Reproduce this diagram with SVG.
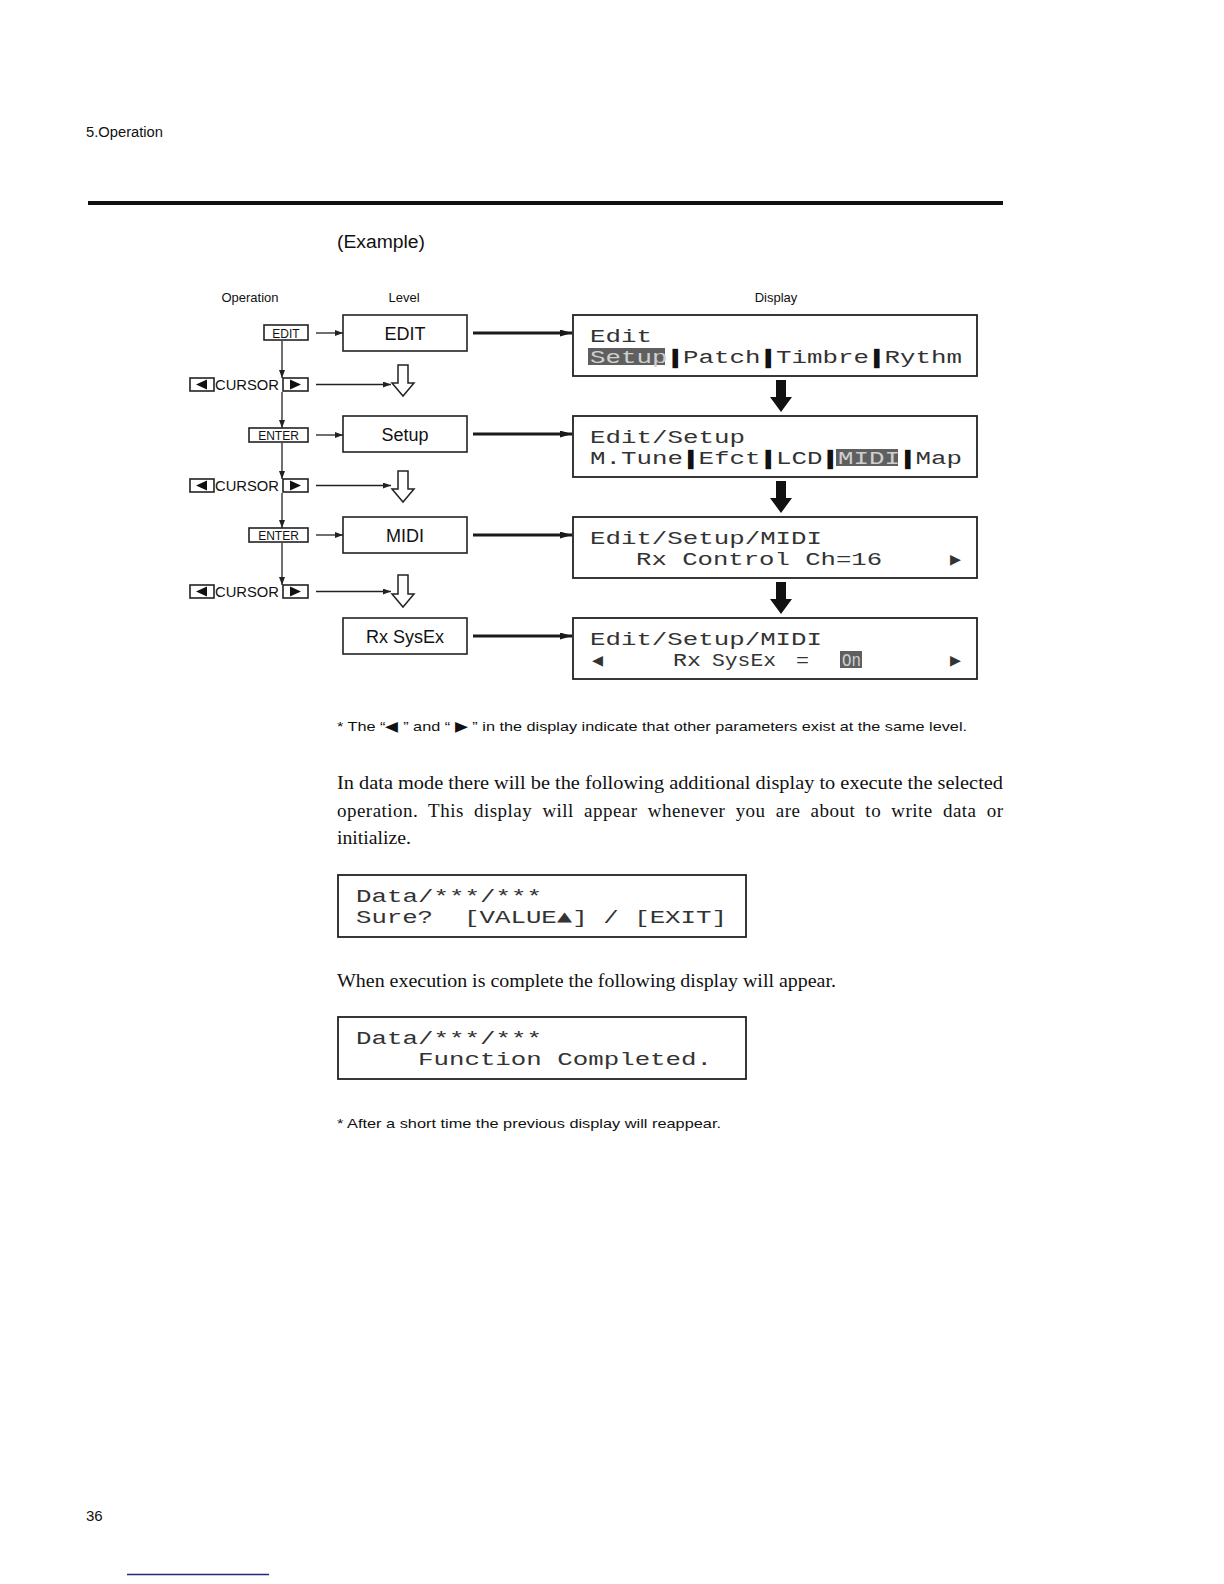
<svg xmlns="http://www.w3.org/2000/svg" width="1224" height="1584" viewBox="0 0 1224 1584">
<style>
  .sans { font-family: "Liberation Sans", Arial, sans-serif; fill: #111; }
  .serif { font-family: "Liberation Serif", "Times New Roman", serif; fill: #111; }
  .lcd { font-family: "Liberation Mono", "DejaVu Sans Mono", monospace; font-size: 18px; fill: #333; }
  .hl { fill: #cfcfcf; }
  .bar { fill: #111; stroke: #111; stroke-width: 2.4; }
  .box { fill: #fff; stroke: #222; stroke-width: 1.6; }
  .dbox { fill: #fff; stroke: #222; stroke-width: 1.8; }
  .key { fill: #fff; stroke: #222; stroke-width: 1.6; }
  .hlrect { fill: #5f5f5f; }
  .thin { stroke: #222; stroke-width: 1.3; fill: none; }
  .thick { stroke: #1a1a1a; stroke-width: 3; fill: none; }
  .hollow { fill: #fff; stroke: #222; stroke-width: 1.5; stroke-linejoin: miter; }
  .solid { fill: #111; }
</style>
<defs>
  <marker id="ah" markerUnits="userSpaceOnUse" markerWidth="8" markerHeight="6" refX="8" refY="3" orient="auto">
    <path d="M0,0 L8,3 L0,6 Z" fill="#222"/>
  </marker>
  <marker id="ahk" markerUnits="userSpaceOnUse" markerWidth="12" markerHeight="7" refX="12" refY="3.5" orient="auto">
    <path d="M0,0 L12,3.5 L0,7 Z" fill="#1a1a1a"/>
  </marker>
</defs>
<rect width="1224" height="1584" fill="#fff"/>

<!-- header -->
<text class="sans" x="86" y="137" font-size="14" textLength="77" lengthAdjust="spacingAndGlyphs">5.Operation</text>
<rect x="88" y="201" width="915" height="4" fill="#111"/>
<text class="sans" x="337" y="248" font-size="18" textLength="88" lengthAdjust="spacingAndGlyphs">(Example)</text>

<text class="sans" x="250" y="302" font-size="13" text-anchor="middle">Operation</text>
<text class="sans" x="404" y="302" font-size="13" text-anchor="middle">Level</text>
<text class="sans" x="776" y="302" font-size="13" text-anchor="middle">Display</text>

<!-- operation keys -->
<g id="key-edit">
  <rect class="key" x="264" y="325" width="44" height="15"/>
  <text class="sans" x="286" y="337.5" font-size="12" text-anchor="middle">EDIT</text>
</g>
<g id="key-cursor1">
  <rect class="key" x="190" y="378" width="24" height="13"/>
  <path class="solid" d="M196,384.5 L207,379.5 L207,389.5 Z"/>
  <text class="sans" x="215" y="389.5" font-size="14" textLength="64" lengthAdjust="spacingAndGlyphs">CURSOR</text>
  <rect class="key" x="283" y="378" width="25" height="13"/>
  <path class="solid" d="M290,379.5 L301,384.5 L290,389.5 Z"/>
</g>
<g id="key-enter1">
  <rect class="key" x="249" y="428" width="59" height="14"/>
  <text class="sans" x="278.5" y="440" font-size="12" text-anchor="middle">ENTER</text>
</g>
<g id="key-cursor2">
  <rect class="key" x="190" y="479" width="24" height="13"/>
  <path class="solid" d="M196,485.5 L207,480.5 L207,490.5 Z"/>
  <text class="sans" x="215" y="490.5" font-size="14" textLength="64" lengthAdjust="spacingAndGlyphs">CURSOR</text>
  <rect class="key" x="283" y="479" width="25" height="13"/>
  <path class="solid" d="M290,480.5 L301,485.5 L290,490.5 Z"/>
</g>
<g id="key-enter2">
  <rect class="key" x="249" y="528" width="59" height="14"/>
  <text class="sans" x="278.5" y="540" font-size="12" text-anchor="middle">ENTER</text>
</g>
<g id="key-cursor3">
  <rect class="key" x="190" y="585" width="24" height="13"/>
  <path class="solid" d="M196,591.5 L207,586.5 L207,596.5 Z"/>
  <text class="sans" x="215" y="596.5" font-size="14" textLength="64" lengthAdjust="spacingAndGlyphs">CURSOR</text>
  <rect class="key" x="283" y="585" width="25" height="13"/>
  <path class="solid" d="M290,586.5 L301,591.5 L290,596.5 Z"/>
</g>

<!-- level boxes -->
<g id="level-edit">
  <rect class="box" x="343" y="315" width="124" height="36"/>
  <text class="sans" x="405" y="339.5" font-size="18" text-anchor="middle">EDIT</text>
</g>
<g id="level-setup">
  <rect class="box" x="343" y="416" width="124" height="36"/>
  <text class="sans" x="405" y="440.5" font-size="18" text-anchor="middle">Setup</text>
</g>
<g id="level-midi">
  <rect class="box" x="343" y="517" width="124" height="36"/>
  <text class="sans" x="405" y="541.5" font-size="18" text-anchor="middle">MIDI</text>
</g>
<g id="level-rxsysex">
  <rect class="box" x="343" y="618" width="124" height="36"/>
  <text class="sans" x="405" y="642.5" font-size="18" text-anchor="middle">Rx  SysEx</text>
</g>

<!-- display boxes -->
<g id="display-edit">
  <rect class="dbox" x="573" y="315" width="404" height="61"/>
  <rect class="hlrect" x="588" y="348" width="77" height="17"/>
  <text class="lcd" x="590" y="342" textLength="62" lengthAdjust="spacingAndGlyphs">Edit</text>
  <text class="lcd" x="590" y="363" textLength="372" lengthAdjust="spacingAndGlyphs"><tspan class="hl">Setup</tspan><tspan class="bar">|</tspan>Patch<tspan class="bar">|</tspan>Timbre<tspan class="bar">|</tspan>Rythm</text>
</g>
<g id="display-setup">
  <rect class="dbox" x="573" y="416" width="404" height="61"/>
  <rect class="hlrect" x="836" y="449" width="62" height="17"/>
  <text class="lcd" x="590" y="443" textLength="155" lengthAdjust="spacingAndGlyphs">Edit/Setup</text>
  <text class="lcd" x="590" y="464" textLength="372" lengthAdjust="spacingAndGlyphs">M.Tune<tspan class="bar">|</tspan>Efct<tspan class="bar">|</tspan>LCD<tspan class="bar">|</tspan><tspan class="hl">MIDI</tspan><tspan class="bar">|</tspan>Map</text>
</g>
<g id="display-midi">
  <rect class="dbox" x="573" y="517" width="404" height="61"/>
  <text class="lcd" x="590" y="544" textLength="232" lengthAdjust="spacingAndGlyphs">Edit/Setup/MIDI</text>
  <text class="lcd" x="636" y="565" textLength="246" lengthAdjust="spacingAndGlyphs">Rx Control Ch=16</text>
  <text class="lcd" x="950" y="565" textLength="11" lengthAdjust="spacingAndGlyphs">▶</text>
</g>
<g id="display-rxsysex">
  <rect class="dbox" x="573" y="618" width="404" height="61"/>
  <rect class="hlrect" x="840" y="651" width="22" height="17"/>
  <text class="lcd" x="590" y="645" textLength="232" lengthAdjust="spacingAndGlyphs">Edit/Setup/MIDI</text>
  <text class="lcd" x="592" y="666" textLength="11" lengthAdjust="spacingAndGlyphs">◀</text>
  <text class="lcd" x="673" y="666" textLength="28" lengthAdjust="spacingAndGlyphs">Rx</text>
  <text class="lcd" x="712" y="666" textLength="64" lengthAdjust="spacingAndGlyphs">SysEx</text>
  <text class="lcd" x="796" y="666" textLength="13" lengthAdjust="spacingAndGlyphs">=</text>
  <text class="lcd hl" x="842" y="666" textLength="19" lengthAdjust="spacingAndGlyphs">On</text>
  <text class="lcd" x="950" y="666" textLength="11" lengthAdjust="spacingAndGlyphs">▶</text>
</g>

<!-- connectors -->
<g id="connectors">
  <line class="thin" x1="282" y1="341" x2="282" y2="378" marker-end="url(#ah)"/>
  <line class="thin" x1="282" y1="392" x2="282" y2="428" marker-end="url(#ah)"/>
  <line class="thin" x1="282" y1="443" x2="282" y2="479" marker-end="url(#ah)"/>
  <line class="thin" x1="282" y1="493" x2="282" y2="528" marker-end="url(#ah)"/>
  <line class="thin" x1="282" y1="543" x2="282" y2="585" marker-end="url(#ah)"/>

  <line class="thin" x1="316" y1="333" x2="343" y2="333" marker-end="url(#ah)"/>
  <line class="thin" x1="316" y1="435" x2="343" y2="435" marker-end="url(#ah)"/>
  <line class="thin" x1="316" y1="535" x2="343" y2="535" marker-end="url(#ah)"/>
  <line class="thin" x1="316" y1="384.5" x2="391" y2="384.5" marker-end="url(#ah)"/>
  <line class="thin" x1="316" y1="485.5" x2="391" y2="485.5" marker-end="url(#ah)"/>
  <line class="thin" x1="316" y1="591.5" x2="391" y2="591.5" marker-end="url(#ah)"/>

  <path class="hollow" d="M398,365 L408,365 L408,383 L414,383 L403,396 L392,383 L398,383 Z"/>
  <path class="hollow" d="M398,471 L408,471 L408,489 L414,489 L403,502 L392,489 L398,489 Z"/>
  <path class="hollow" d="M398,575 L408,575 L408,594 L414,594 L403,607 L392,594 L398,594 Z"/>

  <line class="thick" x1="473" y1="333" x2="572" y2="333" marker-end="url(#ahk)"/>
  <line class="thick" x1="473" y1="434" x2="572" y2="434" marker-end="url(#ahk)"/>
  <line class="thick" x1="473" y1="535" x2="572" y2="535" marker-end="url(#ahk)"/>
  <line class="thick" x1="473" y1="636" x2="572" y2="636" marker-end="url(#ahk)"/>

  <path class="solid" d="M776,380 L786,380 L786,397 L792,397 L781,412 L770,397 L776,397 Z"/>
  <path class="solid" d="M776,481 L786,481 L786,498 L792,498 L781,513 L770,498 L776,498 Z"/>
  <path class="solid" d="M776,582 L786,582 L786,599 L792,599 L781,614 L770,599 L776,599 Z"/>
</g>

<!-- notes and text -->
<text class="sans" x="337" y="731" font-size="13.5" textLength="630" lengthAdjust="spacingAndGlyphs">* The “◀ ” and “ ▶ ” in the display indicate that other parameters exist at the same level.</text>

<text class="serif" x="337" y="789" font-size="19" textLength="666" lengthAdjust="spacingAndGlyphs">In data mode there will be the following additional display to execute the selected</text>
<text class="serif" x="337" y="817" font-size="19" word-spacing="5" textLength="666" lengthAdjust="spacing">operation. This display will appear whenever you are about to write data or</text>
<text class="serif" x="337" y="844" font-size="19" textLength="74" lengthAdjust="spacingAndGlyphs">initialize.</text>

<g id="display-data-sure">
  <rect class="dbox" x="338" y="875" width="408" height="62"/>
  <text class="lcd" x="356" y="902" textLength="186" lengthAdjust="spacingAndGlyphs">Data/***/***</text>
  <text class="lcd" x="356" y="923" textLength="77" lengthAdjust="spacingAndGlyphs">Sure?</text>
  <text class="lcd" x="464" y="923" textLength="263" lengthAdjust="spacingAndGlyphs">[VALUE▲] / [EXIT]</text>
</g>

<text class="serif" x="337" y="987" font-size="19" textLength="499" lengthAdjust="spacingAndGlyphs">When execution is complete the following display will appear.</text>

<g id="display-data-done">
  <rect class="dbox" x="338" y="1017" width="408" height="62"/>
  <text class="lcd" x="356" y="1044" textLength="186" lengthAdjust="spacingAndGlyphs">Data/***/***</text>
  <text class="lcd" x="418" y="1065" textLength="294" lengthAdjust="spacingAndGlyphs">Function Completed.</text>
</g>

<text class="sans" x="337" y="1128" font-size="13.5" textLength="384" lengthAdjust="spacingAndGlyphs">* After a short time the previous display will reappear.</text>

<text class="sans" x="86" y="1521" font-size="15">36</text>
<line x1="127" y1="1574.5" x2="269" y2="1574.5" stroke="#1c2a7a" stroke-width="1.5"/>
</svg>
